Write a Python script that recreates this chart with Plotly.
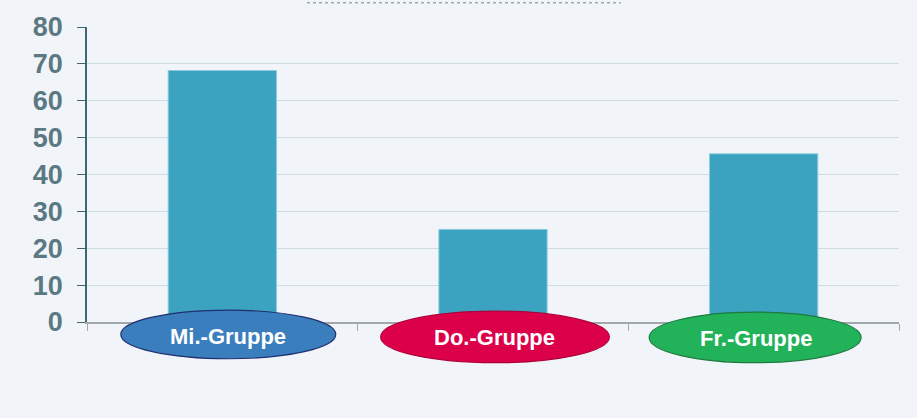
import plotly.graph_objects as go

categories = ["Mi.-Gruppe", "Do.-Gruppe", "Fr.-Gruppe"]
values = [68.2, 25.1, 45.6]
label_fill = ["#3A7EBD", "#DC004A", "#22B35A"]
label_line = ["#1F2F70", "#B0003A", "#1E7A3E"]
y_ticks = [0, 10, 20, 30, 40, 50, 60, 70, 80]

# label badge geometry (offsets relative to category centre, in category units)
badge_left = [-0.375, -0.415, -0.423]
badge_right = [0.419, 0.430, 0.360]
badge_top_px = [310, 311, 312]
badge_bot_px = [359, 363, 363]
text_dx = [0.022, 0.005, -0.03]
text_y_px = [337, 338, 339]

W, H = 917, 418
ML, MR, MT, MB = 87, 18, 25, 96
plot_h = H - MT - MB

def py(pixel_y):
    # convert pixel y (from top) to paper coordinate
    return (H - MB - pixel_y) / plot_h

fig = go.Figure()
fig.add_trace(go.Bar(
    x=list(range(len(categories))), y=values, width=0.4,
    marker=dict(color="#3BA3C0", line=dict(color="#8CCBDD", width=1)),
    hoverinfo="skip",
))

shapes = []
annotations = []
for i, cat in enumerate(categories):
    shapes.append(dict(
        type="circle", xref="x", yref="paper",
        x0=i + badge_left[i], x1=i + badge_right[i],
        y0=py(badge_bot_px[i]), y1=py(badge_top_px[i]),
        fillcolor=label_fill[i], line=dict(color=label_line[i], width=1.2),
        layer="above",
    ))
    annotations.append(dict(
        x=i + text_dx[i], y=py(text_y_px[i]), xref="x", yref="paper", text=cat,
        xanchor="center", yanchor="middle",
        showarrow=False, font=dict(family="Liberation Sans, Arial", size=22, color="white", weight="bold"),
    ))

# dotted line near top edge
shapes.append(dict(type="line", xref="paper", yref="paper",
                   x0=(307 - ML) / (W - ML - MR), x1=(621 - ML) / (W - ML - MR),
                   y0=py(0.5), y1=py(0.5), line=dict(color="#9AAAB4", width=1.5, dash="dot")))

fig.update_layout(
    width=W, height=H,
    margin=dict(l=ML, r=MR, t=MT, b=MB),
    paper_bgcolor="#F1F5F9", plot_bgcolor="#F1F5F9",
    showlegend=False,
    shapes=shapes, annotations=annotations,
    xaxis=dict(
        range=[-0.5, 2.5], tickmode="array", tickvals=[-0.5, 0.5, 1.5, 2.5],
        showticklabels=False, ticks="outside", ticklen=7, tickcolor="#A0A8AC",
        showline=True, linecolor="#A0A8AC", linewidth=1.5, showgrid=False, zeroline=False,
    ),
    yaxis=dict(
        range=[0, 80], tickvals=y_ticks, ticks="outside", ticklen=8, tickcolor="#3F6672",
        showline=True, linecolor="#3F6672", linewidth=1.5,
        showgrid=True, gridcolor="#CFDCE1", gridwidth=1, zeroline=False,
        tickfont=dict(family="Liberation Sans, Arial", size=27, color="#5B7883", weight="bold"),
        ticklabelstandoff=9,
    ),
)

fig.write_html("out.html", config={"displayModeBar": False})

# remove default page margin so the figure sits at the window origin
with open("out.html", "r", encoding="utf-8") as f:
    html = f.read()
html = html.replace("<head>", "<head><style>html,body{margin:0;padding:0;overflow:hidden;background:#F1F5F9;}</style>", 1)
with open("out.html", "w", encoding="utf-8") as f:
    f.write(html)
